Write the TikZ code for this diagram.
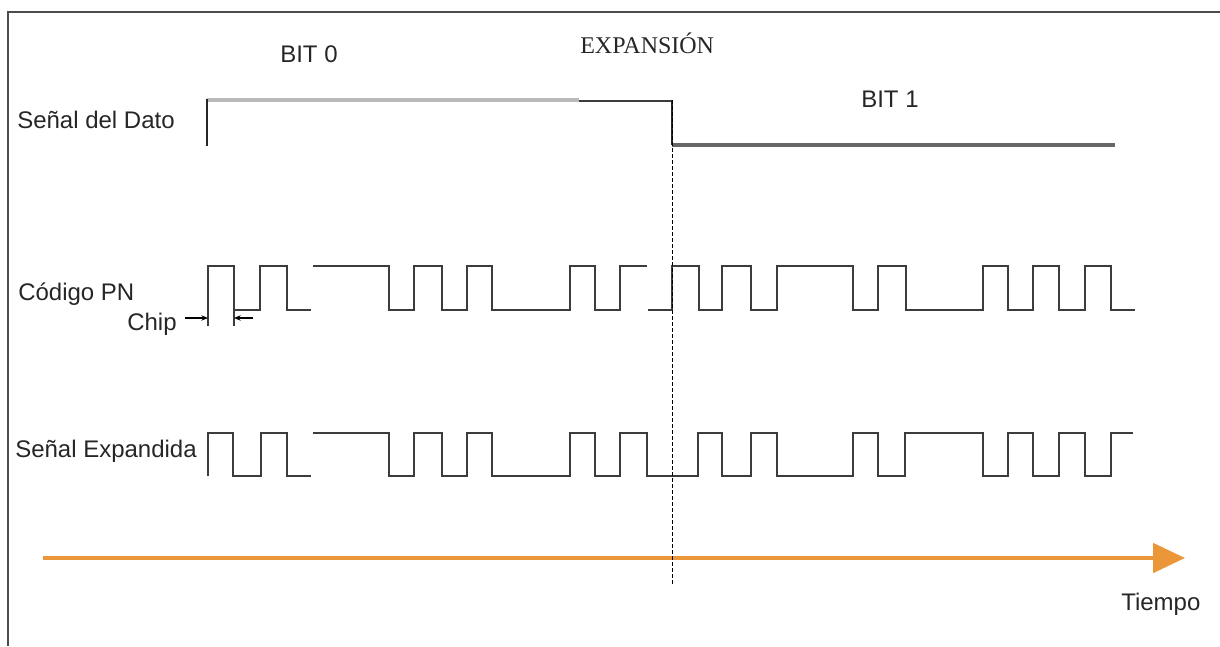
\documentclass[tikz,border=0pt]{standalone}
\usepackage{fontspec}
\setmainfont{Liberation Sans}
\newfontfamily\titlefont{Liberation Serif}
\usepackage{xcolor}
\usetikzlibrary{arrows.meta, positioning}
\definecolor{tiempo}{RGB}{236,150,58}
\definecolor{onda}{RGB}{60,60,60}
\tikzset{
  etiqueta/.style={anchor=base west, inner sep=0pt, font=\fontsize{18}{21}\selectfont, text=black!85},
  onda/.style={draw=onda, line width=1.3pt},
  marcachip/.style={-{Stealth[length=5pt,width=4pt]}, line width=0.8pt},
}

\begin{document}
\begin{tikzpicture}[x=0.75pt, y=-0.75pt]
    \useasboundingbox (0,0) rectangle (1220,646);
    % marco
    \draw[gray!60!black, line width=1.5pt] (8,646) -- (8,12) -- (1220,12);

    % textos
    \node[etiqueta] (bit0) at (280,62) {BIT 0};
    \node[etiqueta, font=\titlefont\fontsize{18}{21}\selectfont] (expansion) at (580,53) {EXPANSIÓN};
    \node[etiqueta] (bit1) at (861,107) {BIT 1};
    \node[etiqueta] (dato) at (17,128) {Señal del Dato};
    \node[etiqueta] (codigo) at (18,300) {Código PN};
    \node[etiqueta] (chip) at (127,330) {Chip};
    \node[etiqueta] (expandida) at (15,457) {Señal Expandida};
    \node[etiqueta] (tiempo) at (1121,610) {Tiempo};

    % eje del tiempo
    \coordinate (t0) at (43,558);
    \coordinate (t1) at (1185,558);
    \draw[tiempo, line width=3pt, -{Triangle[length=24pt,width=22pt]}] (t0) -- (t1);

    % senal del dato
    \draw[gray!55, line width=2.5pt] (207,100) -- (579,100);
    \draw[onda, line width=1.1pt] (579,101) -- (672,101);
    \draw[black!85, line width=1.3pt] (207,99) -- (207,146);
    \draw[black!85, line width=1.3pt] (672,100) -- (672,145);
    \draw[black!60, line width=2.5pt] (672,145) -- (1115,145);

    % codigo PN
    \draw[onda] (208,310) |- (234,266) |- (260,310) |- (287,266) |- (311,310);
    \draw[onda] (313,266) -- (389,266) |- (414,310) |- (442,266) |- (467,310) |- (492,266)
        |- (570,310) |- (595,266) |- (620,310) |- (647,266);
    \draw[onda] (648,310) -- (672,310) |- (699,266) |- (722,310) |- (751,266) |- (777,310)
        |- (853,266) |- (878,310) |- (906,266) |- (983,310) |- (1008,266) |- (1033,310)
        |- (1059,266) |- (1085,310) |- (1111,266) |- (1135,310);

    % chip
    \draw[onda, line width=1pt] (208,310) -- (208,326);
    \draw[onda, line width=1pt] (234,310) -- (234,326);
    \coordinate (c1) at (185,318);
    \coordinate (e1) at (208,318);
    \coordinate (c2) at (253,318);
    \coordinate (e2) at (234,318);
    \draw[marcachip] (c1) -- (e1);
    \draw[marcachip] (c2) -- (e2);

    % senal expandida
    \draw[onda] (208,476) |- (233,433) |- (261,476) |- (287,433) |- (311,476);
    \draw[onda] (313,433) -- (389,433) |- (414,476) |- (442,433) |- (467,476) |- (492,433)
        |- (570,476) |- (595,433) |- (620,476) |- (647,433) |- (698,476) |- (722,433)
        |- (751,476) |- (777,433) |- (853,476) |- (878,433) |- (905,476) |- (983,433)
        |- (1008,476) |- (1033,433) |- (1059,476) |- (1085,433) |- (1111,476) |- (1133,433);

    % limite entre bits
    \coordinate (corte1) at (672,100);
    \coordinate (corte2) at (672,585);
    \draw[black, line width=0.6pt, dash pattern=on 3pt off 1.5pt] (corte1) -- (corte2);
\end{tikzpicture}
\end{document}
